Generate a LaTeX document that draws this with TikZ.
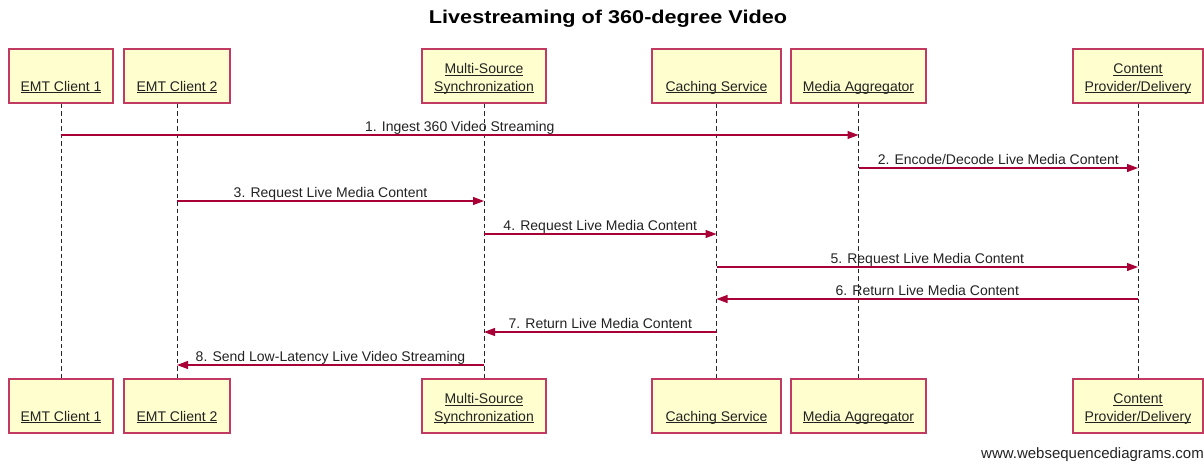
\documentclass[tikz,border=0pt]{standalone}
\usepackage{fontspec}
\setmainfont{Liberation Sans}
\usetikzlibrary{arrows.meta}
\definecolor{lineRed}{HTML}{A80036}
\definecolor{boxEdge}{HTML}{C03A62}
\definecolor{boxFill}{HTML}{FEFECE}
\definecolor{ink}{HTML}{222222}
% underline that sits just below the baseline and crosses descenders
\newcommand\ulbl[1]{\setbox0=\hbox{#1}\rlap{\rule[-1.7pt]{\wd0}{0.8pt}}\box0}
\begin{document}
\begin{tikzpicture}[x=1pt,y=-1pt,
  participant/.style={draw=boxEdge, line width=1.3pt, fill=boxFill,
    minimum height=54pt, inner sep=0pt},
  plabel/.style={font=\fontsize{14}{16}\selectfont, text=ink, anchor=base, inner sep=0pt},
  lifeline/.style={draw=black!85, line width=1pt, dash pattern=on 4.5pt off 3pt},
  msg/.style={draw=lineRed, line width=1.1pt, -{Triangle[length=11pt,width=8pt]}},
  mlabel/.style={font=\fontsize{14}{16}\selectfont, text=ink, anchor=base,
    inner sep=0pt, yshift=3.5pt}]
\useasboundingbox (0,0) rectangle (1204,464);

% title
\node[anchor=base, inner sep=0pt, text=black] (title) at (608,23)
  {\fontsize{18.5}{20}\selectfont\scalebox{1.17}[1]{\bfseries Livestreaming of 360-degree Video}};

% participant boxes, top row (y=76) and bottom row (y=406)
\foreach \n/\x/\w in {A/61/104, B/177/106, C/484/124, D/716.5/129, E/858.5/135, F/1138/130}{
  \node[participant, minimum width=\w pt] (top\n) at (\x,76) {};
  \node[participant, minimum width=\w pt] (bot\n) at (\x,406) {};
}

% participant names
\foreach \p in {top,bot}{
  \node[plabel] (\p LA) at ([yshift=12.5pt]\p A.south) {\ulbl{EMT Client 1}};
  \node[plabel] (\p LB) at ([yshift=12.5pt]\p B.south) {\ulbl{EMT Client 2}};
  \node[plabel] (\p LCa) at ([yshift=30pt]\p C.south) {\ulbl{Multi-Source}};
  \node[plabel] (\p LCb) at ([yshift=12.5pt]\p C.south) {\ulbl{Synchronization}};
  \node[plabel] (\p LD) at ([yshift=12.5pt]\p D.south) {\ulbl{Caching Service}};
  \node[plabel] (\p LE) at ([yshift=12.5pt]\p E.south) {\ulbl{Media Aggregator}};
  \node[plabel] (\p LFa) at ([yshift=30pt]\p F.south) {\ulbl{Content}};
  \node[plabel] (\p LFb) at ([yshift=12.5pt]\p F.south) {\ulbl{Provider/Delivery}};
}

% lifelines
\foreach \n in {A,B,C,D,E,F}
  \draw[lifeline] (top\n.south) -- (bot\n.north);

% messages
\draw[msg] (topA |- 0,135) -- node[mlabel] (l1) {1. Ingest 360 Video Streaming} (topE |- 0,135);
\draw[msg] (topE |- 0,168) -- node[mlabel] (l2) {2. Encode/Decode Live Media Content} (topF |- 0,168);
\draw[msg] (topB |- 0,201) -- node[mlabel] (l3) {3. Request Live Media Content} (topC |- 0,201);
\draw[msg] (topC |- 0,234) -- node[mlabel] (l4) {4. Request Live Media Content} (topD |- 0,234);
\draw[msg] (topD |- 0,267) -- node[mlabel] (l5) {5. Request Live Media Content} (topF |- 0,267);
\draw[msg] (topF |- 0,299) -- node[mlabel] (l6) {6. Return Live Media Content} (topD |- 0,299);
\draw[msg] (topD |- 0,332) -- node[mlabel] (l7) {7. Return Live Media Content} (topC |- 0,332);
\draw[msg] (topC |- 0,365) -- node[mlabel] (l8) {8. Send Low-Latency Live Video Streaming} (topB |- 0,365);

% footer
\node[anchor=base west, inner sep=0pt, text=ink, font=\fontsize{15}{17}\selectfont]
  (footer) at (981,458) {www.websequencediagrams.com};
\end{tikzpicture}
\end{document}
